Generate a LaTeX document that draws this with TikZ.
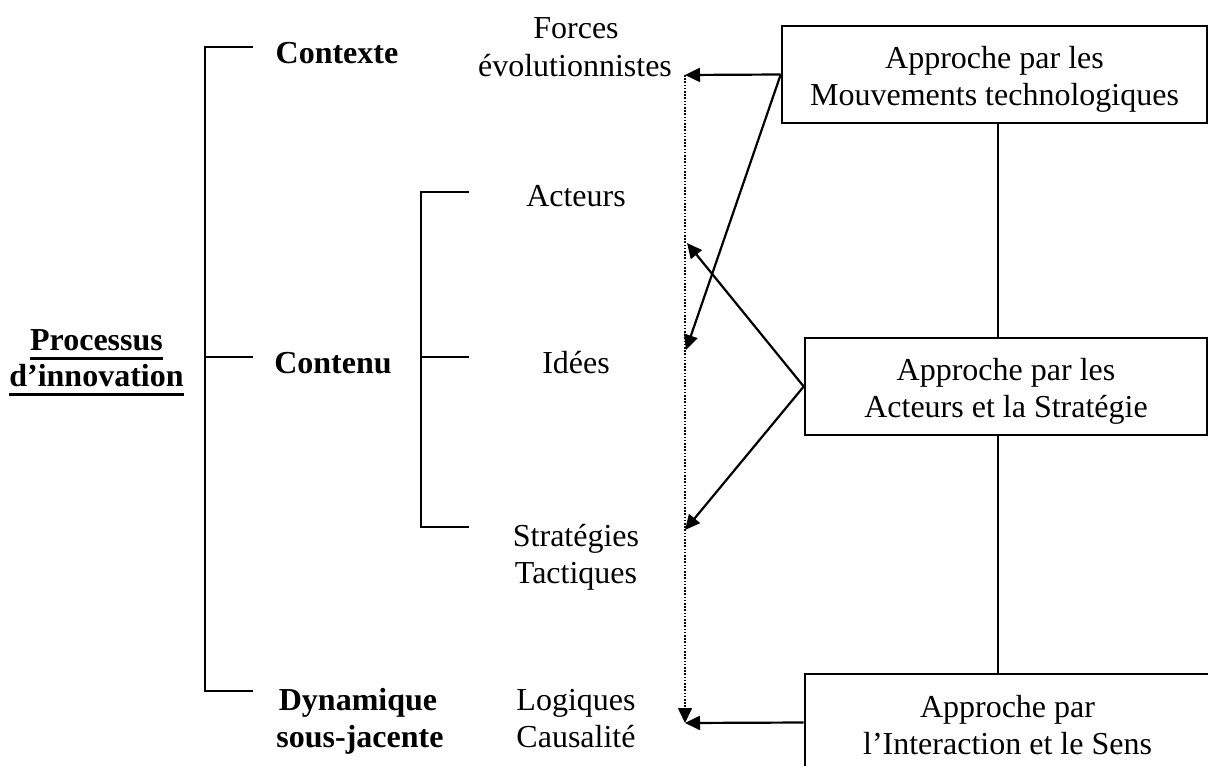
\documentclass[tikz,border=0pt]{standalone}
\usepackage{fontspec}
\setmainfont{Liberation Serif}
\usetikzlibrary{arrows.meta}
\tikzset{
  txt/.style={inner sep=0pt, anchor=base, font=\fontsize{16}{18.5}\selectfont},
  btxt/.style={txt, font=\fontsize{16}{18.5}\selectfont\bfseries},
  boxstyle/.style={draw, line width=1.3pt, minimum height=48.5pt, align=center, inner sep=0pt,
                   font=\fontsize{16}{18.5}\selectfont},
  brack/.style={line width=0.9pt},
  arr/.style={line width=1.1pt, -{Triangle[length=7.5pt,width=7pt]}},
  dots/.style={line width=0.8pt, dash pattern=on 0.8pt off 0.8pt, -{Triangle[length=7.5pt,width=7pt]}},
  conn/.style={line width=0.9pt}
}
\begin{document}
\begin{tikzpicture}[x=0.5pt,y=-0.5pt]
\clip (0,0) rectangle (1208,765);
\fill[white] (0,0) rectangle (1208,765);

% left labels
\node[btxt] (proc) at (96.5,350) {Processus};
\node[btxt] (innov) at (96.5,386) {d’innovation};
\draw[line width=1.5pt] ([yshift=-4pt]proc.base west) -- ([yshift=-4pt]proc.base east);
\draw[line width=1.5pt] ([yshift=-4pt]innov.base west) -- ([yshift=-4pt]innov.base east);

% outer bracket
\draw[brack] (253,47) -- (205,47) -- (205,691) -- (253,691);
\draw[brack] (205,357) -- (253,357);

\node[btxt] (ctx) at (337,64) {Contexte};
\node[btxt] (cnt) at (333,373) {Contenu};
\node[btxt] (dyn1) at (358,710) {Dynamique};
\node[btxt] (dyn2) at (360,747) {sous-jacente};

% inner bracket
\draw[brack] (469,192) -- (421,192) -- (421,527) -- (469,527);
\draw[brack] (421,357) -- (469,357);

% middle column
\node[txt] (f1) at (576,39) {Forces};
\node[txt] (f2) at (575,76) {évolutionnistes};
\node[txt] (act) at (576,206) {Acteurs};
\node[txt] (ide) at (576,373) {Idées};
\node[txt] (s1) at (576,546) {Stratégies};
\node[txt] (s2) at (576,583) {Tactiques};
\node[txt] (l1) at (576,710) {Logiques};
\node[txt] (l2) at (576,747) {Causalité};

% boxes
\node[boxstyle, minimum width=212.5pt] (b1) at (994.5,74.5) {\rule{0pt}{16pt}Approche par les\\Mouvements technologiques};
\node[boxstyle, minimum width=201pt] (b2) at (1006,386.5) {\rule{0pt}{16pt}Approche par les\\Acteurs et la Stratégie};
\node[boxstyle, minimum width=202.5pt] (b3) at (1007.5,722.5) {\rule{0pt}{14pt}Approche par\\\rule{0pt}{14pt}l’Interaction et le Sens};

% vertical connectors
\coordinate (vx) at (998,0);
\draw[conn] (b1.south -| vx) -- (b2.north -| vx);
\draw[conn] (b2.south -| vx) -- (b3.north -| vx);

% arrow tips
\coordinate (tF) at (685,75);
\coordinate (tI) at (686,350);
\coordinate (tA) at (687,243);
\coordinate (tS) at (685,530);
\coordinate (tL) at (685,723);

\draw[dots] (tF) -- (tL);
\draw[arr] (b1.west) -- (tF);
\draw[arr] (b1.west) -- (tI);
\draw[arr] (b2.west) -- (tA);
\draw[arr] (b2.west) -- (tS);
\draw[arr] (b3.west) -- (tL);
\end{tikzpicture}
\end{document}
